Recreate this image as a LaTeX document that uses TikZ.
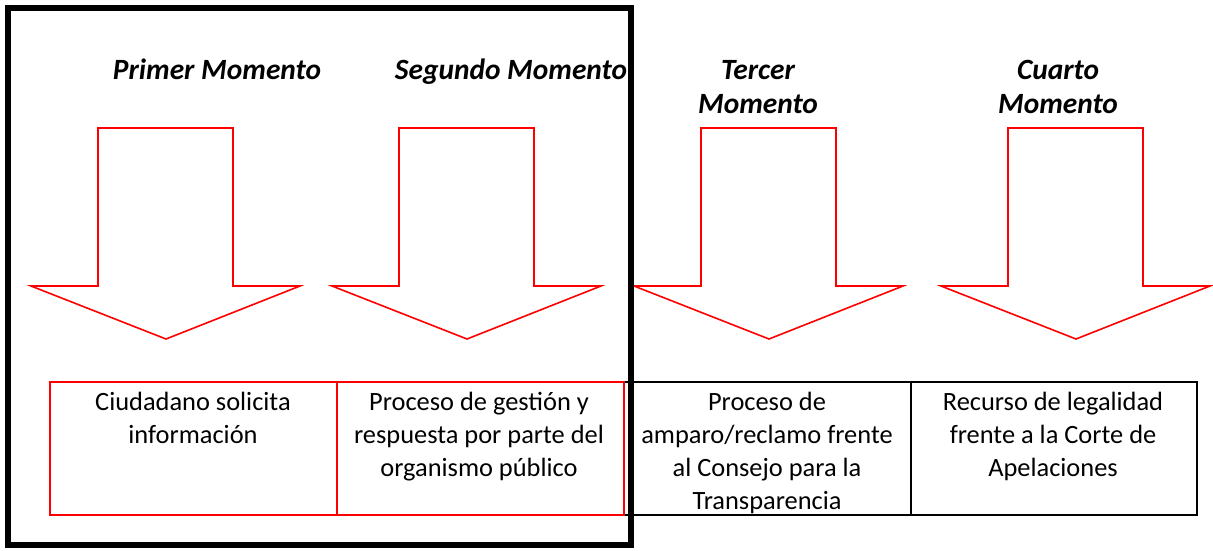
\documentclass[tikz,border=0pt]{standalone}
\usepackage{fontspec}
\setmainfont{Carlito}
\begin{document}
\begin{tikzpicture}[x=1pt,y=-1pt,
  redarrow/.style={draw=red, line width=1.6pt, line join=miter},
  redcell/.style={draw=red, line width=1.6pt, minimum height=133pt, anchor=north west, inner sep=0pt},
  blackcell/.style={draw=black, line width=1.6pt, minimum height=133pt, anchor=north west, inner sep=0pt},
  frame/.style={draw=black, line width=6pt},
  title/.style={font=\fontsize{29.4}{34}\selectfont\bfseries\itshape, anchor=base, inner sep=0pt},
  celltext/.style={font=\fontsize{26.4}{33}\selectfont, anchor=base, inner sep=0pt},
  pics/downarrow/.style={code={
    \draw[redarrow] (0,0) -- (135,0) -- (135,158) -- (202,158) -- (68,211) -- (-67,158) -- (0,158) -- cycle;
  }}]
\useasboundingbox (0,0) rectangle (1213,550);
% arrows
\pic (a1) at (98,128) {downarrow};
\pic (a2) at (399,128) {downarrow};
\pic (a3) at (701,128) {downarrow};
\pic (a4) at (1008,128) {downarrow};
% titles
\node[title] (t1) at (217,79) {Primer Momento};
\node[title] (t2) at (511,79) {Segundo Momento};
\node[title] (t3) at (758,79) {\begin{tabular}[t]{@{}c@{}}Tercer\\Momento\end{tabular}};
\node[title] (t4) at (1058,79) {\begin{tabular}[t]{@{}c@{}}Cuarto\\Momento\end{tabular}};
% black cells
\node[blackcell, minimum width=287pt] (c3) at (623,381) {};
\node[blackcell, minimum width=286pt] (c4) at (910,381) {};
% red cells
\node[redcell, minimum width=287pt] (c1) at (49,381) {};
\node[redcell, minimum width=287pt] (c2) at (336,381) {};
% texts
\node[celltext] (x1) at (193,410) {\begin{tabular}[t]{@{}c@{}}Ciudadano solicita\\información\end{tabular}};
\node[celltext] (x2) at (479,410) {\begin{tabular}[t]{@{}c@{}}Proceso de gestión y\\respuesta por parte del\\organismo público\end{tabular}};
\node[celltext] (x3) at (767,410) {\begin{tabular}[t]{@{}c@{}}Proceso de\\amparo/reclamo frente\\al Consejo para la\\Transparencia\end{tabular}};
\node[celltext] (x4) at (1053,410) {\begin{tabular}[t]{@{}c@{}}Recurso de legalidad\\frente a la Corte de\\Apelaciones\end{tabular}};
% frame
\draw[frame] (8,8) rectangle (631,545);
\end{tikzpicture}
\end{document}
